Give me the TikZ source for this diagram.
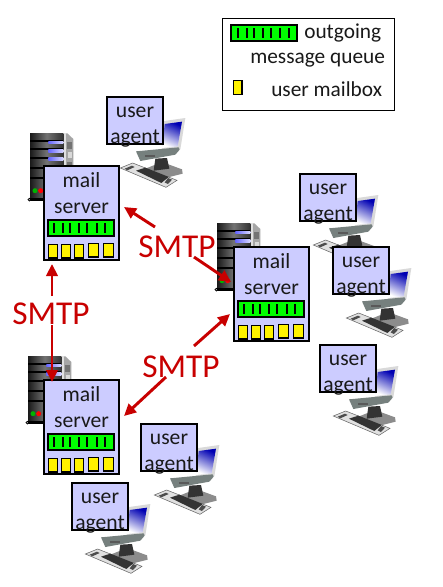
\documentclass[tikz,border=0pt]{standalone}
\usepackage{fontspec}
\setmainfont{Carlito}
\usetikzlibrary{arrows.meta}
\definecolor{boxblue}{HTML}{CCCCFF}
\definecolor{smtpred}{HTML}{C80000}
\definecolor{bezel}{HTML}{76807E}
\tikzset{
  x=0.75pt,y=-0.75pt,
  txt/.style={font=\fontsize{16}{19.5}\selectfont,text=black!90,inner sep=0pt},
  boxtxt/.style={font=\fontsize{16.2}{19.5}\selectfont,text=black!90},
  srvbox/.style={draw=black,fill=boxblue,line width=1.5pt,anchor=north west,minimum width=56.25pt,minimum height=70.5pt,inner sep=0pt,boxtxt,align=center,text height=35.8pt,text depth=34.7pt},
  uabox/.style={draw=black,fill=boxblue,line width=1.5pt,anchor=north west,minimum width=42pt,minimum height=35.25pt,inner sep=0pt,boxtxt,align=center,text height=35pt,text depth=0.25pt},
  qbox/.style={draw=black,fill=green,line width=1.5pt},
  qbar/.style={draw=black,line width=1.4pt},
  mbox/.style={draw=black,fill=yellow,line width=0.8pt},
  smtplabel/.style={font=\fontsize{25}{30}\selectfont,text=smtpred,inner sep=0pt},
  arr/.style={draw=smtpred,line width=2.2pt,-{Triangle[length=9pt,width=8.5pt]}},
  legendtxt/.style={txt,anchor=base west},
}
% tower: origin = top-left of body; inner units = 1/3 px
\newcommand{\towerpic}[2]{%
  \begin{scope}[shift={(#1-10,#2-8)},x=0.25pt,y=-0.25pt]
    \fill[black!35] (130,25) -- (142,25) -- (160,42) -- (160,190) -- (130,225) -- cycle;
    \fill[black!12] (130,25) -- (137,25) -- (137,225) -- (130,225) -- cycle;
    \fill[black!55] (142,52) rectangle (156,72);
    \fill[black!15] (144,80) rectangle (156,100);
    \fill[black!55] (142,110) rectangle (156,130);
    \shade[left color=black!90,right color=black!80,middle color=black!55] (30,25) rectangle (130,225);
    \foreach \yy in {48,73,98,130,160} {\fill[black] (30,\yy-3) rectangle (130,\yy+3);}
    \foreach \yy in {48,73,98} {\shade[left color=blue!60,right color=blue!15!white] (85,\yy) rectangle (130,\yy+8);}
    \fill[green!70!black] (45,197) circle (7.5);
    \fill[red] (62,197) circle (7.5);
    \fill[black] (28,219) rectangle (130,229);
    \draw[black,line width=0.6pt,fill=white] (28,224) circle (4);
  \end{scope}}
% computer: origin = top-left of user agent box
\newcommand{\compu}[2]{%
  \begin{scope}[shift={(#1+6,#2+16)},x=0.25pt,y=-0.25pt]
    \fill[black!45] (105,168) -- (150,150) -- (210,172) -- (212,185) -- (160,198) -- (95,175) -- cycle;
    \fill[black!80] (130,140) -- (165,138) -- (172,170) -- (125,176) -- cycle;
    \fill[black!15] (150,28) -- (220,18) -- (205,112) -- (150,118) -- cycle;
    \shade[top color=blue!70!black,bottom color=white,shading angle=-25] (158,36) -- (210,29) -- (197,103) -- (150,108) -- cycle;
    \fill[bezel] (72,118) -- (200,106) -- (203,113) -- (190,128) -- (85,147) -- cycle;
    \fill[black!65] (100,130) rectangle (130,136);
    \fill[black!12] (25,168) -- (62,153) -- (195,205) -- (162,226) -- cycle;
    \draw[black!60,line width=0.4pt] (25,168) -- (62,153) -- (195,205) -- (162,226) -- cycle;
    \fill[black!80] (72,176) -- (100,167) -- (170,195) -- (148,213) -- cycle;
    \fill[black!70] (38,170) -- (60,161) -- (68,165) -- (46,175) -- cycle;
    \fill[black!70] (168,198) -- (180,203) -- (168,216) -- (158,211) -- cycle;
  \end{scope}}
% mail server box, origin = outer top-left
\newcommand{\mailserver}[3]{%
  \node[srvbox] (#1) at (#2,#3) {mail\\server};
  \begin{scope}[shift={(#2,#3)}]
    \draw[qbox] (5,55) rectangle (71,71);
    \foreach \xx in {11,20,27,36,44,54,62} {\draw[qbar] (\xx,58) -- (\xx,68);}
    \draw[mbox] (5.5,79.5) rectangle (14.5,93);
    \draw[mbox] (18.7,79.5) rectangle (27.5,93);
    \draw[mbox] (31.5,79.5) rectangle (40.5,93);
    \draw[mbox] (45.5,78.5) rectangle (55.3,92);
    \draw[mbox] (60.3,78.5) rectangle (70.5,92);
  \end{scope}}
\newcommand{\useragent}[3]{%
  \compu{#2}{#3}
  \node[uabox] (#1) at (#2,#3) {user\\agent};}
\begin{document}
\begin{tikzpicture}
\useasboundingbox (0,0) rectangle (443,587);
\fill[white] (0,0) rectangle (443,587);

% legend
\node[draw=black,line width=0.9pt,fill=white,anchor=north west,minimum width=129pt,minimum height=69pt,inner sep=0pt] (legend) at (222,18) {};
\draw[qbox] (231,25) rectangle (297,41);
\foreach \xx in {238,247,254,263,271,280,289} {\draw[qbar] (\xx,28) -- (\xx,38);}
\node[legendtxt] (lout) at (304,38) {outgoing};
\node[legendtxt] (lmsg) at (250,63) {message queue};
\draw[mbox] (233.5,80.5) rectangle (242,94.5);
\node[legendtxt] (lmbx) at (271,96) {user mailbox};

% towers
\towerpic{30}{133}
\towerpic{217}{223}
\towerpic{28}{356}

% user agents
\useragent{ua1}{106}{96}
\useragent{ua2}{299}{173}
\useragent{ua3}{332}{246}
\useragent{ua4}{319}{344}
\useragent{ua5}{140}{423}
\useragent{ua6}{71}{482}

% mail servers
\mailserver{srvA}{43}{165}
\mailserver{srvB}{233}{246}
\mailserver{srvC}{43}{379}

% labels
\node[smtplabel] (smtpA) at (177,247) {SMTP};
\node[smtplabel] (smtpB) at (51,314) {SMTP};
\node[smtplabel] (smtpC) at (181,367) {SMTP};

% connector ends
\coordinate (a1s) at (155,227); \coordinate (a1t) at (124,207);
\coordinate (a2s) at (194,257); \coordinate (a2t) at (231,282);
\coordinate (b1s) at (52,296);  \coordinate (b1t) at (52,264);
\coordinate (b2s) at (52,325);  \coordinate (b2t) at (52,382);
\coordinate (c1s) at (194,346); \coordinate (c1t) at (230,314);
\coordinate (c2s) at (166,377); \coordinate (c2t) at (124,416);
\draw[arr] (a1s) -- (a1t);
\draw[arr] (a2s) -- (a2t);
\draw[arr] (b1s) -- (b1t);
\draw[arr] (b2s) -- (b2t);
\draw[arr] (c1s) -- (c1t);
\draw[arr] (c2s) -- (c2t);
\end{tikzpicture}
\end{document}
